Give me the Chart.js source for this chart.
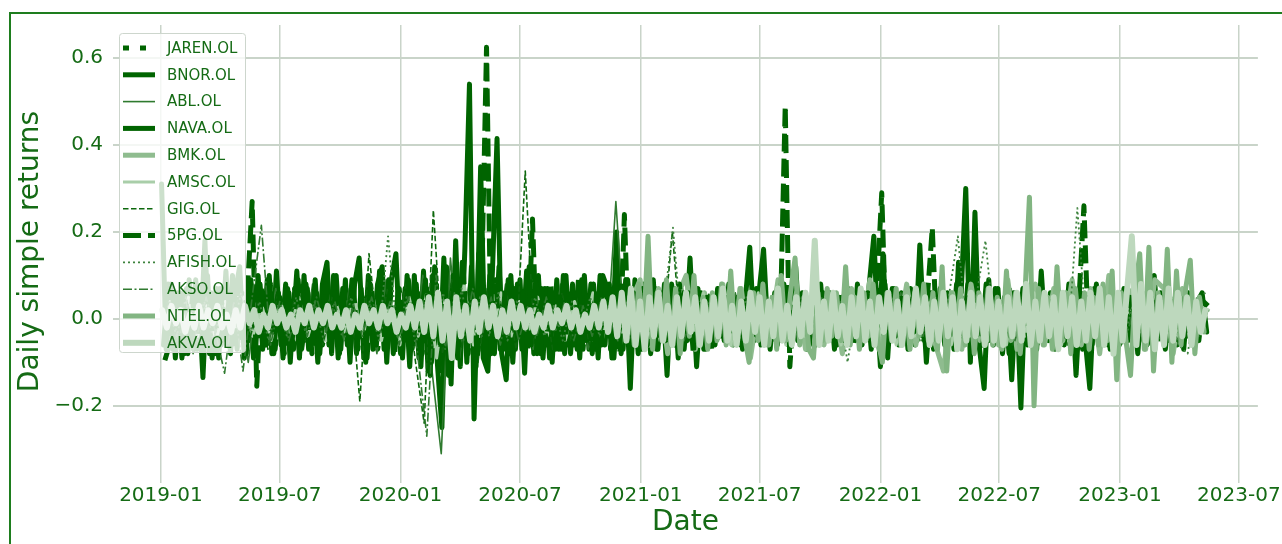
<!DOCTYPE html>
<html>
<head>
<meta charset="utf-8">
<title>Daily simple returns</title>
<script src="https://cdn.jsdelivr.net/npm/chart.js@4.4.1/dist/chart.umd.min.js"></script>
<style>
  html, body { margin: 0; padding: 0; background: #fff; }
  #wrap { position: relative; width: 1282px; height: 544px; overflow: hidden; }
</style>
</head>
<body>
<div id="wrap"><canvas id="chart" width="1282" height="544"></canvas></div>
<script>
// Axis ticks
const X_TICKS = ["2019-01", "2019-07", "2020-01", "2020-07", "2021-01", "2021-07", "2022-01", "2022-07", "2023-01", "2023-07"];
const Y_TICKS = [-0.2, 0.0, 0.2, 0.4, 0.6];

// Series, in legend order
const SERIES_LABELS = ["JAREN.OL", "BNOR.OL", "ABL.OL", "NAVA.OL", "BMK.OL", "AMSC.OL", "GIG.OL", "5PG.OL", "AFISH.OL", "AKSO.OL", "NTEL.OL", "AKVA.OL"];
const SERIES_START = ["2019-01-09", "2019-01-02", "2019-01-08", "2019-01-05", "2020-12-17", "2019-01-15", "2019-01-10", "2019-01-07", "2019-01-11", "2019-01-14", "2020-12-15", "2019-01-03"];
const SERIES_STEP_DAYS = [14, 7, 14, 7, 14, 14, 14, 7, 14, 14, 7, 7];

const JAREN = [
  .05,-.06,.04,-.07,.06,-.04,.05,-.07,.04,-.05,.06,-.04,.05,-.06,.07,-.05,.04,-.06,.05,-.04,
  .06,-.05,.04,-.07,.05,-.04,.06,-.05,.04,-.06,.06,-.08,.05,-.04,.07,-.03,.04,-.05,.03,-.02,
  .04,-.03,.05,-.02,.03,-.04,.02,-.03,.04,-.02,.03,-.05,.02,-.03,.04,-.02,.03,-.04,.05,-.03,
  .02,-.04,.03,-.02,.04,-.03,.02,-.04,.03,-.05,.04,-.02,.03,-.04,.02,-.03,.05,-.02,.03,-.04,
  .02,-.03,.04,-.02,.03,-.04,.05,-.03,.02,-.04,.03,-.02,.04,-.03,.02,-.05,.03,-.02,.04,-.03,
  .02,-.04,.03,-.02,.05,-.03,.02,-.04,.03,-.02,.04,-.03,.02,.03
];
const BNOR = [
  .31,-.07,.08,-.09,.06,-.08,.09,-.07,.06,-.135,.10,-.09,.07,-.06,.11,-.08,.06,.12,-.09,.08,
  -.09,.10,-.07,.09,-.08,.11,-.06,.08,-.10,.07,-.09,.10,-.07,.06,-.10,.08,.13,-.08,.10,-.07,
  .09,-.10,.08,.14,-.09,.10,-.07,.08,.12,-.10,.09,.15,-.08,.07,-.11,.10,-.09,.11,-.12,.10,
  -.10,-.25,.12,-.15,.18,-.11,.16,.54,-.23,.15,-.09,-.12,.11,.415,-.08,-.14,.10,-.07,.09,-.125,
  .12,-.08,.10,-.09,.07,-.10,.09,-.07,.10,-.08,.06,-.09,.10,-.07,.08,-.09,.10,.07,-.09,.20,
  -.08,.09,-.16,.09,-.07,.08,-.06,.09,-.07,.06,-.13,.08,-.06,.07,-.05,.14,-.07,.06,-.07,.05,
  -.05,.07,-.04,.06,-.05,.05,-.06,.04,.165,-.05,.06,.16,-.04,.05,-.06,.04,-.05,.06,.12,-.05,
  .04,-.06,.05,-.04,.06,-.05,.04,-.06,.05,-.04,.06,-.05,.07,-.04,.08,.19,-.06,.15,-.09,.07,
  -.05,.06,-.04,.07,-.06,.17,-.05,.06,-.07,.05,-.04,.06,-.05,.08,.06,.30,-.10,.245,-.07,-.16,
  .09,-.06,.07,-.08,.05,-.14,.06,-.205,.08,-.06,.05,-.04,.06,-.05,.04,-.06,.05,-.04,.07,-.13,
  .06,-.05,-.16,.07,-.04,.05,-.06,.04,-.05,.06,-.04,.05,-.06,.04,.05,-.05,.10,-.04,.06,-.05,
  .04,-.06,.05,-.04,.03,-.05,.04,.02
];
const ABL = [
  .05,-.06,.04,-.08,.06,-.05,.07,-.04,.05,-.10,.06,-.05,.07,-.06,.04,-.07,.08,-.05,.06,-.04,
  .07,-.06,.05,-.08,.09,-.05,.06,-.07,.10,-.12,-.31,.14,-.09,.08,-.10,.07,-.06,.08,-.05,.06,
  -.07,.05,-.06,.08,-.05,.06,-.07,.05,-.06,.27,-.05,.06,-.04,.07,-.05,.06,-.04,.05,-.06,.04,
  .05,-.04,.06,-.05,.04,-.06,.05,-.04,.07,-.05,.04,-.06,.05,-.04,.06,-.05,.04,-.06,.05,-.04,
  .06,-.05,.04,-.07,.05,-.04,.06,-.05,.04,-.06,.05,-.04,.07,-.05,.04,-.06,.05,-.04,.06,-.05,
  .04,-.06,.05,-.04,.06,-.05,.04,-.06,.05,-.04,.06,-.05,.04,.03
];
const NAVA = [
  -.06,.08,-.07,.06,-.09,.07,-.05,.09,-.06,.18,-.08,.06,-.09,.07,-.06,.10,-.07,.06,-.08,.09,
  -.07,.08,-.06,.10,-.08,.06,-.09,.07,-.05,.11,-.07,.08,-.06,.09,-.08,.07,-.06,.10,-.09,.07,
  -.06,.09,-.08,.07,-.10,.08,-.06,.11,-.07,.09,-.08,.06,-.09,.10,-.07,.08,-.11,.09,-.13,.12,
  -.12,.14,-.13,.10,-.09,.13,-.10,.12,-.11,.35,-.09,.10,-.08,.12,-.07,.09,-.10,.08,-.07,.11,
  -.06,.09,-.08,.07,-.09,.06,-.07,.10,-.06,.08,-.07,.09,-.05,.08,-.07,.10,-.06,.08,-.09,.07,
  -.07,.09,-.06,.08,-.07,.06,-.08,.07,-.05,.08,-.06,.07,-.09,.06,-.05,.08,-.11,.06,-.07,.05,
  -.06,.07,-.05,.08,-.06,.05,-.07,.06,-.05,.07,-.06,.05,-.07,.06,-.05,.08,-.06,.07,-.05,.06,
  -.07,.05,-.06,.08,-.05,.06,-.07,.05,-.06,.07,-.05,.08,-.06,.05,-.07,.06,-.11,.08,-.05,.07,
  -.06,.05,-.07,.06,-.05,.08,-.10,.06,-.05,.07,-.06,.05,-.07,.13,-.06,.08,-.05,.07,-.06,.08,
  -.05,.07,-.06,.05,-.08,.06,-.05,.07,-.06,.05,-.07,.11,-.05,.06,-.07,.05,-.06,.08,-.05,.06,
  -.07,.05,-.06,.08,-.05,.06,-.07,.05,-.06,.07,-.05,.06,-.08,.05,-.06,.07,-.05,.06,-.07,.05,
  -.06,.05,-.07,.06,-.05,.04,.06,-.03
];
const BMK = [
  .04,.09,-.06,.07,-.08,.05,.10,-.07,.06,-.05,.08,-.06,.07,-.09,.05,-.06,.09,-.05,.06,-.07,
  .08,-.06,.05,-.08,.07,-.05,.09,-.07,.06,-.05,.08,-.06,.07,-.05,-.12,.06,-.07,.08,-.05,.06,
  -.06,.09,-.07,.05,.08,-.06,.07,-.05,.09,-.06,.07,-.08,.10,-.06,.05,.08,-.07,.09,.07,-.08,
  .07,-.06,.04
];
const AMSC = [
  .04,-.03,.05,-.04,.03,-.05,.04,-.03,.05,-.04,.03,-.05,.04,-.03,.05,-.04,.03,-.05,.04,-.03,
  .05,-.04,.06,-.05,.04,-.06,.05,-.04,.07,-.09,.06,-.05,.08,-.06,.05,-.04,.06,-.05,.04,-.03,
  .05,-.04,.03,-.05,.04,-.03,.06,-.05,.04,-.06,.05,-.04,.06,-.05,.04,-.06,.05,-.04,.06,-.05,
  .04,-.06,.05,-.04,.06,-.05,.04,-.06,.05,-.04,.06,-.05,.04,-.06,.05,-.04,.06,-.05,.04,-.06,
  .05,-.04,.06,-.05,.04,-.06,.05,-.04,.06,-.05,.04,-.06,.05,-.04,.06,-.05,.04,-.06,.05,-.04,
  .06,-.05,.04,-.06,.05,-.04,.06,-.05,.04,-.06,.05,-.04,.03,.02
];
const GIG = [
  .04,-.05,.06,-.04,.03,-.06,.05,-.04,.06,-.05,.04,-.07,.05,-.04,.06,-.05,.04,-.06,.05,-.04,
  .06,-.19,.15,-.05,.07,-.06,.08,-.09,-.24,.25,-.08,.09,-.07,.06,-.08,.07,-.05,.06,-.07,.34,
  -.06,.05,-.07,.06,-.05,.04,-.06,.05,-.04,.06,-.05,.04,-.06,.05,-.04,.20,-.06,.05,-.04,.06,
  -.05,.04,-.06,.05,-.04,.06,-.05,.04,-.06,.05,-.04,.06,-.05,.04,-.06,.05,-.04,.06,-.05,.04,
  -.06,.05,-.04,.06,-.05,.04,-.06,.05,-.04,.06,-.05,.04,-.06,.05,-.04,.06,-.05,.04,-.06,.05,
  -.04,.06,-.05,.04,-.06,.05,-.04,.06,-.05,.04,-.06,.05,-.04,.03
];
const SPG = [
  -.095,-.06,.07,-.04,.06,-.08,.05,-.07,.08,-.05,.06,-.09,.07,-.06,.05,-.07,.08,-.06,.07,.27,
  -.155,.07,-.06,.08,-.07,.05,-.08,.06,-.07,.09,-.06,.07,-.08,.06,-.05,.08,-.07,.06,-.08,.07,
  -.06,.08,-.07,.05,-.09,.07,-.06,.08,-.07,.06,-.08,.07,-.05,.09,-.07,.06,-.08,.07,-.10,.08,
  -.07,.09,-.10,.08,-.06,.10,-.08,.07,-.09,.11,.625,-.08,.09,-.07,.06,-.08,.07,-.05,.06,-.07,
  .23,-.08,.07,-.06,.08,-.07,.06,-.08,.07,-.06,.09,-.07,.06,-.08,.07,-.06,.08,-.07,.09,-.08,
  .24,-.07,.06,-.08,.07,-.06,.08,-.07,.06,-.05,.07,-.06,.08,-.07,.06,-.08,.07,-.06,.05,-.07,
  .04,-.03,.05,-.04,.03,-.05,.04,-.03,.05,-.04,.06,-.03,.04,-.05,.03,.49,-.11,.04,-.03,.05,
  -.04,.03,-.05,.04,-.03,.05,-.04,.03,-.05,.04,-.03,.05,-.04,.06,-.05,.08,.29,-.06,.05,-.04,
  .06,-.05,.04,-.03,.05,-.04,.06,.21,-.05,.04,-.06,.05,-.04,.03,-.05,.06,-.04,.05,-.06,.04,
  -.05,.04,-.03,.05,-.04,.03,-.06,.04,-.05,.03,-.04,.05,-.03,.04,-.05,.03,-.04,.05,-.03,.06,
  .26,-.05,.04,-.03,.05,-.04,.03,-.05,.04,-.03,.05,-.04,.03,-.05,.04,-.03,.05,-.04,.03,-.05,
  .04,-.03,.05,-.04,.03,-.05,.04,.03
];
const AFISH = [
  .03,-.04,.05,-.03,.04,-.05,.03,-.04,.06,-.03,.04,-.05,.03,-.04,.05,-.03,.04,-.05,.03,-.04,
  .05,-.03,.04,-.05,.19,-.04,.05,-.06,.04,-.05,.06,-.08,.07,-.06,.05,-.04,.06,-.05,.04,-.03,
  .05,-.04,.03,-.05,.04,-.03,.05,-.04,.03,-.05,.04,-.03,.05,-.04,.03,.21,-.04,.05,-.03,.04,
  -.05,.03,-.04,.05,-.03,.04,-.05,.03,-.04,.05,-.03,.04,-.05,.03,-.10,.04,-.05,.03,-.04,.05,
  -.03,.04,-.05,.03,-.04,.05,.19,-.04,.05,.18,-.03,.04,-.05,.03,-.04,.05,-.03,.04,-.05,.255,
  -.04,.05,-.03,.04,-.05,.03,-.04,.05,-.03,.04,-.06,-.08,.05,.06
];
const AKSO = [
  .04,-.05,.03,-.04,.05,-.03,-.125,.04,-.12,.05,.215,-.06,.04,-.05,.03,-.04,.05,-.03,.04,-.05,
  .03,-.04,.05,-.03,.04,-.06,.05,-.08,-.27,.10,-.07,.06,-.05,.07,-.04,.05,-.06,.04,-.05,.03,
  -.04,.05,-.03,.04,-.05,.03,-.04,.05,-.03,.04,-.05,.03,-.04,.05,-.03,.04,-.05,.03,-.04,.05,
  -.03,.04,-.05,.03,-.04,.05,-.03,.04,-.05,.03,-.04,.05,-.03,.04,-.05,.03,-.04,.05,-.03,.04,
  -.05,.03,-.04,.05,-.03,.04,-.05,.03,-.04,.05,-.03,.04,-.05,.03,-.04,.05,-.03,.04,-.05,.03,
  -.04,.05,-.03,.04,-.05,.03,-.04,.05,-.03,.04,-.05,.03,-.04,.02
];
const NTEL = [
  .05,-.06,.08,-.04,.19,-.07,.06,-.05,.09,-.06,.07,-.08,.05,-.04,.10,-.06,.05,-.07,.06,-.05,
  .08,-.06,.11,-.05,.07,-.04,-.10,.06,-.05,.08,-.06,.05,-.07,.10,-.05,.06,.14,-.06,.05,-.07,
  -.09,.06,-.05,.07,-.04,.06,-.05,.12,-.06,.05,-.07,.06,-.04,.08,-.05,-.10,.06,-.05,.07,-.06,
  .05,-.07,.06,-.04,.08,-.05,.06,-.07,.12,-.12,.06,-.05,.07,-.06,.05,-.08,.06,-.05,.07,-.06,
  .05,-.07,.11,-.05,.06,-.08,.05,.28,-.20,.07,-.06,.05,-.07,.12,-.05,.06,-.08,.07,-.05,.06,
  -.07,.05,-.06,.08,-.05,.11,-.14,.06,-.05,-.13,.06,.15,-.07,.165,-.12,.06,-.05,.16,-.10,.11,
  -.06,.07,.135,-.08,.05,-.03
];
const AKVA = [
  .02,-.02,.03,-.01,.02,-.03,.01,-.02,.03,-.02,.02,-.01,.03,-.02,.01,-.03,.02,-.02,.03,-.01,
  .02,-.03,.01,-.02,.03,-.01,.02,-.02,.01,-.03,.02,-.01,.03,-.02,.02,-.01,.03,-.02,.01,-.02,
  .02,-.03,.01,-.02,.03,-.01,.02,-.02,.03,-.01,.02,-.03,.01,-.02,.03,-.02,.04,-.03,.05,-.04,
  .06,-.05,.04,-.09,.05,-.04,.03,-.05,.04,-.03,.05,-.02,.03,-.04,.02,-.03,.04,-.02,.03,-.02,
  .02,-.03,.01,-.02,.03,-.02,.02,-.01,.03,-.02,.02,-.03,.01,-.02,.03,-.02,.04,-.03,.05,-.04,
  .06,-.05,.07,-.06,.04,-.07,.05,-.04,.06,-.05,.03,-.06,.05,-.04,.06,-.03,.05,-.06,.04,-.05,
  .05,-.04,.07,-.05,.03,-.06,.04,-.05,.06,-.03,.05,-.06,.04,-.04,.07,-.05,.03,-.06,.05,-.04,
  .06,-.03,.18,-.06,.04,-.05,.06,-.04,.03,-.06,.05,-.04,.07,-.05,.04,-.06,.05,-.03,.06,-.05,
  .04,-.06,.05,-.04,.07,-.03,.05,-.06,.04,-.05,.06,-.04,.05,-.07,.04,-.05,.06,-.04,.05,-.06,
  .07,-.05,.04,-.06,.05,-.04,.06,-.05,.08,-.06,.04,-.05,.06,-.04,.05,-.07,.06,-.04,.05,-.06,
  .04,-.05,.06,-.04,.07,-.06,.05,-.08,.06,-.05,.07,.19,-.06,.08,-.05,.06,-.07,.05,-.06,.07,
  -.05,.06,-.04,.05,-.06,.04,-.03,.02
];

const SERIES_VALUES = [JAREN, BNOR, ABL, NAVA, BMK, AMSC, GIG, SPG, AFISH, AKSO, NTEL, AKVA];

// Line styles per series (legend order)
const SERIES_STYLES = [
  { color: "#006400", width: 5, dash: [6, 11] },
  { color: "#006400", width: 5, dash: [] },
  { color: "#2f7a2f", width: 1.6, dash: [] },
  { color: "#006400", width: 5, dash: [] },
  { color: "#8fbc8f", width: 5, dash: [] },
  { color: "#a9cea9", width: 3, dash: [] },
  { color: "#0d680d", width: 1.6, dash: [5.5, 2.5] },
  { color: "#006400", width: 5, dash: [18, 7] },
  { color: "#3d833d", width: 1.8, dash: [2, 3] },
  { color: "#2f7a2f", width: 1.6, dash: [9, 2.5, 2, 2.5] },
  { color: "#82b582", width: 5, dash: [] },
  { color: "#bdd8bd", width: 6, dash: [] },
];

const DAY_MS = 86400000;
const X_MIN = Date.parse("2018-10-20");
const X_MAX = Date.parse("2023-07-30");
const Y_MIN = -0.366;
const Y_MAX = 0.676;

const TEXT_COLOR = "#156b15";
const GRID_COLOR = "#c9d4c9";
const FONT_FAMILY = "'DejaVu Sans', sans-serif";

const datasets = SERIES_LABELS.map((label, i) => {
  const start = Date.parse(SERIES_START[i]);
  const step = SERIES_STEP_DAYS[i] * DAY_MS;
  const style = SERIES_STYLES[i];
  return {
    label,
    data: SERIES_VALUES[i].map((v, k) => ({ x: start + k * step, y: v })),
    borderColor: style.color,
    borderWidth: style.width,
    borderDash: style.dash,
    borderCapStyle: style.dash.length ? "butt" : "round",
    borderJoinStyle: "round",
    pointRadius: 0,
    fill: false,
    tension: 0,
    order: SERIES_LABELS.length - i, // first series drawn at the bottom, like matplotlib
  };
});

// white background + the green frame around the figure
const figureFrame = {
  id: "figureFrame",
  beforeDraw(chart) {
    const { ctx, width, height } = chart;
    ctx.save();
    ctx.fillStyle = "#fff";
    ctx.fillRect(0, 0, width, height);
    ctx.strokeStyle = "#1e7d1e";
    ctx.lineWidth = 2;
    ctx.strokeRect(10, 13, width + 50, height + 50);
    ctx.restore();
  },
};

// matplotlib-style legend in the upper left of the axes
const axesLegend = {
  id: "axesLegend",
  afterDatasetsDraw(chart) {
    const { ctx, chartArea } = chart;
    const x = chartArea.left + 6;
    const y = chartArea.top + 8;
    const w = 126;
    const h = 319;
    const rowH = 26.8;

    ctx.save();
    ctx.beginPath();
    if (ctx.roundRect) {
      ctx.roundRect(x + 0.5, y + 0.5, w, h, 3);
    } else {
      ctx.rect(x + 0.5, y + 0.5, w, h);
    }
    ctx.fillStyle = "rgba(255, 255, 255, 0.8)";
    ctx.fill();
    ctx.strokeStyle = "#cdd6cd";
    ctx.lineWidth = 1;
    ctx.stroke();

    ctx.font = "15px " + FONT_FAMILY;
    ctx.textBaseline = "middle";
    chart.data.datasets.forEach((ds, i) => {
      const cy = y + 15 + i * rowH;
      ctx.beginPath();
      ctx.setLineDash(ds.borderDash || []);
      ctx.lineCap = "butt";
      ctx.lineWidth = ds.borderWidth;
      ctx.strokeStyle = ds.borderColor;
      ctx.moveTo(x + 4, cy);
      ctx.lineTo(x + 36, cy);
      ctx.stroke();
      ctx.setLineDash([]);
      ctx.fillStyle = TEXT_COLOR;
      ctx.fillText(ds.label, x + 48, cy + 1);
    });
    ctx.restore();
  },
};

new Chart(document.getElementById("chart"), {
  type: "line",
  data: { datasets },
  options: {
    responsive: false,
    animation: false,
    events: [],
    parsing: false,
    normalized: true,
    layout: { padding: { top: 25, right: 22, bottom: 0, left: 0 } },
    plugins: {
      legend: { display: false },
      tooltip: { enabled: false },
    },
    scales: {
      x: {
        type: "linear",
        min: X_MIN,
        max: X_MAX,
        afterBuildTicks: (scale) => {
          scale.ticks = X_TICKS.map((t) => ({ value: Date.parse(t + "-01") }));
        },
        afterFit: (scale) => {
          scale.height = 66;
        },
        border: { display: false },
        grid: { color: GRID_COLOR, lineWidth: 1.5, drawTicks: true, tickLength: 5 },
        ticks: {
          color: TEXT_COLOR,
          font: { family: FONT_FAMILY, size: 20 },
          padding: 1,
          maxRotation: 0,
          autoSkip: false,
          callback: (value, index) => X_TICKS[index],
        },
        title: {
          display: true,
          text: "Date",
          color: TEXT_COLOR,
          font: { family: FONT_FAMILY, size: 28 },
          padding: { top: 0, bottom: 4 },
        },
      },
      y: {
        type: "linear",
        min: Y_MIN,
        max: Y_MAX,
        afterBuildTicks: (scale) => {
          scale.ticks = Y_TICKS.map((v) => ({ value: v }));
        },
        afterFit: (scale) => {
          scale.width = 113;
        },
        border: { display: false },
        grid: { color: GRID_COLOR, lineWidth: 2, drawTicks: false },
        ticks: {
          color: TEXT_COLOR,
          font: { family: FONT_FAMILY, size: 20 },
          padding: 10,
          callback: (value) => (value < 0 ? "\u2212" : "") + Math.abs(value).toFixed(1),
        },
        title: {
          display: true,
          text: "Daily simple returns",
          color: TEXT_COLOR,
          font: { family: FONT_FAMILY, size: 28 },
          padding: { top: 14, bottom: 0 },
        },
      },
    },
  },
  plugins: [figureFrame, axesLegend],
});
</script>
</body>
</html>
